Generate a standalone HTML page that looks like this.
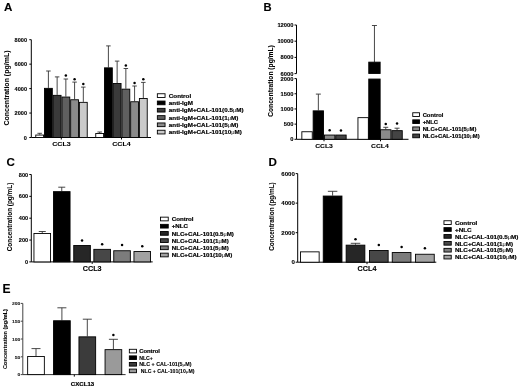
<!DOCTYPE html>
<html><head><meta charset="utf-8"><style>
html,body{margin:0;padding:0;background:#fff;}
body{width:520px;height:387px;overflow:hidden;}
svg{display:block;font-family:"Liberation Sans", sans-serif;will-change:transform;filter:blur(0.35px);}
</style></head><body>
<svg width="520" height="387" viewBox="0 0 520 387" shape-rendering="auto">
<rect x="0" y="0" width="520" height="387" fill="#fff"/>
<text x="4" y="11.3" font-size="11.6" text-anchor="start" font-weight="bold" fill="#000" stroke="#000" stroke-width="0.12" >A</text>
<line x1="31.3" y1="39.7" x2="31.3" y2="137.5" stroke="#000" stroke-width="1"/>
<line x1="29.3" y1="137.5" x2="31.3" y2="137.5" stroke="#000" stroke-width="1"/>
<text x="27.0" y="139.516" font-size="5.6" text-anchor="end" font-weight="bold" fill="#000" stroke="#000" stroke-width="0.1"  transform="matrix(1,0,0,0.88,0,16.742)">0</text>
<line x1="29.3" y1="113.05" x2="31.3" y2="113.05" stroke="#000" stroke-width="1"/>
<text x="27.0" y="115.066" font-size="5.6" text-anchor="end" font-weight="bold" fill="#000" stroke="#000" stroke-width="0.1"  transform="matrix(1,0,0,0.88,0,13.808)">2000</text>
<line x1="29.3" y1="88.6" x2="31.3" y2="88.6" stroke="#000" stroke-width="1"/>
<text x="27.0" y="90.616" font-size="5.6" text-anchor="end" font-weight="bold" fill="#000" stroke="#000" stroke-width="0.1"  transform="matrix(1,0,0,0.88,0,10.874)">4000</text>
<line x1="29.3" y1="64.15" x2="31.3" y2="64.15" stroke="#000" stroke-width="1"/>
<text x="27.0" y="66.16600000000001" font-size="5.6" text-anchor="end" font-weight="bold" fill="#000" stroke="#000" stroke-width="0.1"  transform="matrix(1,0,0,0.88,0,7.940)">6000</text>
<line x1="29.3" y1="39.7" x2="31.3" y2="39.7" stroke="#000" stroke-width="1"/>
<text x="27.0" y="41.716" font-size="5.6" text-anchor="end" font-weight="bold" fill="#000" stroke="#000" stroke-width="0.1"  transform="matrix(1,0,0,0.88,0,5.006)">8000</text>
<line x1="31.3" y1="137.5" x2="151" y2="137.5" stroke="#000" stroke-width="1"/>
<line x1="61.3" y1="137.5" x2="61.3" y2="139.5" stroke="#000" stroke-width="1"/>
<line x1="121.5" y1="137.5" x2="121.5" y2="139.5" stroke="#000" stroke-width="1"/>
<line x1="39.665" y1="133.3" x2="39.665" y2="134.6" stroke="#333" stroke-width="0.9"/>
<line x1="37.415" y1="133.3" x2="41.915" y2="133.3" stroke="#333" stroke-width="0.9"/>
<rect x="35.75" y="135.04999999999998" width="7.83" height="2.4500000000000055" fill="#fff" stroke="#000" stroke-width="0.9"/>
<line x1="48.395" y1="71" x2="48.395" y2="87.9" stroke="#333" stroke-width="0.9"/>
<line x1="46.145" y1="71" x2="50.645" y2="71" stroke="#333" stroke-width="0.9"/>
<rect x="44.480000000000004" y="88.35000000000001" width="7.83" height="49.14999999999999" fill="#000" stroke="#000" stroke-width="0.9"/>
<line x1="57.125" y1="76.9" x2="57.125" y2="94.9" stroke="#333" stroke-width="0.9"/>
<line x1="54.875" y1="76.9" x2="59.375" y2="76.9" stroke="#333" stroke-width="0.9"/>
<rect x="53.21" y="95.35000000000001" width="7.83" height="42.14999999999999" fill="#3a3a3a" stroke="#000" stroke-width="0.9"/>
<line x1="65.85499999999999" y1="79" x2="65.85499999999999" y2="96.6" stroke="#333" stroke-width="0.9"/>
<line x1="63.60499999999999" y1="79" x2="68.10499999999999" y2="79" stroke="#333" stroke-width="0.9"/>
<rect x="61.94" y="97.05" width="7.83" height="40.45" fill="#5f5f5f" stroke="#000" stroke-width="0.9"/>
<circle cx="65.85499999999999" cy="75.5" r="1.25" fill="#000"/>
<line x1="74.585" y1="82.1" x2="74.585" y2="99.3" stroke="#333" stroke-width="0.9"/>
<line x1="72.335" y1="82.1" x2="76.835" y2="82.1" stroke="#333" stroke-width="0.9"/>
<rect x="70.67" y="99.75" width="7.83" height="37.75" fill="#8a8a8a" stroke="#000" stroke-width="0.9"/>
<circle cx="74.585" cy="79.2" r="1.25" fill="#000"/>
<line x1="83.315" y1="87.1" x2="83.315" y2="101.9" stroke="#333" stroke-width="0.9"/>
<line x1="81.065" y1="87.1" x2="85.565" y2="87.1" stroke="#333" stroke-width="0.9"/>
<rect x="79.4" y="102.35000000000001" width="7.83" height="35.14999999999999" fill="#cacaca" stroke="#000" stroke-width="0.9"/>
<circle cx="83.315" cy="84.1" r="1.25" fill="#000"/>
<line x1="99.66499999999999" y1="132" x2="99.66499999999999" y2="133" stroke="#333" stroke-width="0.9"/>
<line x1="97.41499999999999" y1="132" x2="101.91499999999999" y2="132" stroke="#333" stroke-width="0.9"/>
<rect x="95.75" y="133.45" width="7.83" height="4.05" fill="#fff" stroke="#000" stroke-width="0.9"/>
<line x1="108.395" y1="45.9" x2="108.395" y2="67.4" stroke="#333" stroke-width="0.9"/>
<line x1="106.145" y1="45.9" x2="110.645" y2="45.9" stroke="#333" stroke-width="0.9"/>
<rect x="104.48" y="67.85000000000001" width="7.83" height="69.64999999999999" fill="#000" stroke="#000" stroke-width="0.9"/>
<line x1="117.12499999999999" y1="61.1" x2="117.12499999999999" y2="83" stroke="#333" stroke-width="0.9"/>
<line x1="114.87499999999999" y1="61.1" x2="119.37499999999999" y2="61.1" stroke="#333" stroke-width="0.9"/>
<rect x="113.21" y="83.45" width="7.83" height="54.05" fill="#3a3a3a" stroke="#000" stroke-width="0.9"/>
<line x1="125.85499999999999" y1="68.5" x2="125.85499999999999" y2="88.7" stroke="#333" stroke-width="0.9"/>
<line x1="123.60499999999999" y1="68.5" x2="128.105" y2="68.5" stroke="#333" stroke-width="0.9"/>
<rect x="121.94" y="89.15" width="7.83" height="48.349999999999994" fill="#5f5f5f" stroke="#000" stroke-width="0.9"/>
<circle cx="125.85499999999999" cy="65.6" r="1.25" fill="#000"/>
<line x1="134.585" y1="86" x2="134.585" y2="101.3" stroke="#333" stroke-width="0.9"/>
<line x1="132.335" y1="86" x2="136.835" y2="86" stroke="#333" stroke-width="0.9"/>
<rect x="130.67" y="101.75" width="7.83" height="35.75" fill="#8a8a8a" stroke="#000" stroke-width="0.9"/>
<circle cx="134.585" cy="83" r="1.25" fill="#000"/>
<line x1="143.315" y1="82.4" x2="143.315" y2="98" stroke="#333" stroke-width="0.9"/>
<line x1="141.065" y1="82.4" x2="145.565" y2="82.4" stroke="#333" stroke-width="0.9"/>
<rect x="139.39999999999998" y="98.45" width="7.83" height="39.05" fill="#cacaca" stroke="#000" stroke-width="0.9"/>
<circle cx="143.315" cy="79.2" r="1.25" fill="#000"/>
<text x="61.5" y="146" font-size="7.1" text-anchor="middle" font-weight="bold" fill="#000" stroke="#000" stroke-width="0.12"  transform="matrix(1,0,0,0.88,0,17.520)">CCL3</text>
<text x="121.5" y="146" font-size="7.1" text-anchor="middle" font-weight="bold" fill="#000" stroke="#000" stroke-width="0.12"  transform="matrix(1,0,0,0.88,0,17.520)">CCL4</text>
<text x="6.8" y="90.52" font-size="7" text-anchor="middle" font-weight="bold" fill="#000" stroke="#000" stroke-width="0.05" transform="rotate(-90 6.8 88)">Concentration (pg/mL)</text>
<rect x="157.35" y="93.75" width="7.699999999999999" height="3.6999999999999997" fill="#fff" stroke="#000" stroke-width="0.9"/>
<text x="168.8" y="97.868" font-size="6.3" text-anchor="start" font-weight="bold" fill="#000" stroke="#000" stroke-width="0.2"  transform="matrix(1,0,0,0.88,0,11.744)">Control</text>
<rect x="157.35" y="101.05" width="7.699999999999999" height="3.6999999999999997" fill="#000" stroke="#000" stroke-width="0.9"/>
<text x="168.8" y="105.16799999999999" font-size="6.3" text-anchor="start" font-weight="bold" fill="#000" stroke="#000" stroke-width="0.2"  transform="matrix(1,0,0,0.88,0,12.620)">anti-IgM</text>
<rect x="157.35" y="108.35" width="7.699999999999999" height="3.6999999999999997" fill="#3a3a3a" stroke="#000" stroke-width="0.9"/>
<text x="168.8" y="112.46799999999999" font-size="6.3" text-anchor="start" font-weight="bold" fill="#000" stroke="#000" stroke-width="0.2"  transform="matrix(1,0,0,0.88,0,13.496)">anti-IgM+CAL-101(0.5<tspan font-weight="normal" stroke-width="0" font-size="90%">μ</tspan>M)</text>
<rect x="157.35" y="115.65" width="7.699999999999999" height="3.6999999999999997" fill="#5f5f5f" stroke="#000" stroke-width="0.9"/>
<text x="168.8" y="119.768" font-size="6.3" text-anchor="start" font-weight="bold" fill="#000" stroke="#000" stroke-width="0.2"  transform="matrix(1,0,0,0.88,0,14.372)">anti-IgM+CAL-101(1<tspan font-weight="normal" stroke-width="0" font-size="90%">μ</tspan>M)</text>
<rect x="157.35" y="122.95" width="7.699999999999999" height="3.6999999999999997" fill="#8a8a8a" stroke="#000" stroke-width="0.9"/>
<text x="168.8" y="127.068" font-size="6.3" text-anchor="start" font-weight="bold" fill="#000" stroke="#000" stroke-width="0.2"  transform="matrix(1,0,0,0.88,0,15.248)">anti-IgM+CAL-101(5<tspan font-weight="normal" stroke-width="0" font-size="90%">μ</tspan>M)</text>
<rect x="157.35" y="130.24999999999997" width="7.699999999999999" height="3.6999999999999997" fill="#cacaca" stroke="#000" stroke-width="0.9"/>
<text x="168.8" y="134.368" font-size="6.3" text-anchor="start" font-weight="bold" fill="#000" stroke="#000" stroke-width="0.2"  transform="matrix(1,0,0,0.88,0,16.124)">anti-IgM+CAL-101(10<tspan font-weight="normal" stroke-width="0" font-size="90%">μ</tspan>M)</text>
<text x="263.6" y="11.1" font-size="11.2" text-anchor="start" font-weight="bold" fill="#000" stroke="#000" stroke-width="0.12" >B</text>
<line x1="296.5" y1="25" x2="296.5" y2="73.6" stroke="#000" stroke-width="1"/>
<line x1="296.5" y1="78.6" x2="296.5" y2="139.3" stroke="#000" stroke-width="1"/>
<line x1="294.5" y1="73.6" x2="296.5" y2="73.6" stroke="#000" stroke-width="1"/>
<text x="293.5" y="75.69999999999999" font-size="5.8" text-anchor="end" font-weight="bold" fill="#000" stroke="#000" stroke-width="0.12"  transform="matrix(1,0,0,0.88,0,9.084)">6000</text>
<line x1="294.5" y1="57.39999999999999" x2="296.5" y2="57.39999999999999" stroke="#000" stroke-width="1"/>
<text x="293.5" y="59.49999999999999" font-size="5.8" text-anchor="end" font-weight="bold" fill="#000" stroke="#000" stroke-width="0.12"  transform="matrix(1,0,0,0.88,0,7.140)">8000</text>
<line x1="294.5" y1="41.199999999999996" x2="296.5" y2="41.199999999999996" stroke="#000" stroke-width="1"/>
<text x="293.5" y="43.3" font-size="5.8" text-anchor="end" font-weight="bold" fill="#000" stroke="#000" stroke-width="0.12"  transform="matrix(1,0,0,0.88,0,5.196)">10000</text>
<line x1="294.5" y1="25.000000000000007" x2="296.5" y2="25.000000000000007" stroke="#000" stroke-width="1"/>
<text x="293.5" y="27.10000000000001" font-size="5.8" text-anchor="end" font-weight="bold" fill="#000" stroke="#000" stroke-width="0.12"  transform="matrix(1,0,0,0.88,0,3.252)">12000</text>
<line x1="294.5" y1="139.3" x2="296.5" y2="139.3" stroke="#000" stroke-width="1"/>
<text x="293.5" y="141.4" font-size="5.8" text-anchor="end" font-weight="bold" fill="#000" stroke="#000" stroke-width="0.12"  transform="matrix(1,0,0,0.88,0,16.968)">0</text>
<line x1="294.5" y1="124.125" x2="296.5" y2="124.125" stroke="#000" stroke-width="1"/>
<text x="293.5" y="126.225" font-size="5.8" text-anchor="end" font-weight="bold" fill="#000" stroke="#000" stroke-width="0.12"  transform="matrix(1,0,0,0.88,0,15.147)">500</text>
<line x1="294.5" y1="108.95" x2="296.5" y2="108.95" stroke="#000" stroke-width="1"/>
<text x="293.5" y="111.05" font-size="5.8" text-anchor="end" font-weight="bold" fill="#000" stroke="#000" stroke-width="0.12"  transform="matrix(1,0,0,0.88,0,13.326)">1000</text>
<line x1="294.5" y1="93.775" x2="296.5" y2="93.775" stroke="#000" stroke-width="1"/>
<text x="293.5" y="95.875" font-size="5.8" text-anchor="end" font-weight="bold" fill="#000" stroke="#000" stroke-width="0.12"  transform="matrix(1,0,0,0.88,0,11.505)">1500</text>
<line x1="294.5" y1="78.6" x2="296.5" y2="78.6" stroke="#000" stroke-width="1"/>
<text x="293.5" y="80.69999999999999" font-size="5.8" text-anchor="end" font-weight="bold" fill="#000" stroke="#000" stroke-width="0.12"  transform="matrix(1,0,0,0.88,0,9.684)">2000</text>
<line x1="296.5" y1="139.3" x2="408.5" y2="139.3" stroke="#000" stroke-width="1"/>
<line x1="324" y1="139.3" x2="324" y2="141.3" stroke="#000" stroke-width="1"/>
<line x1="380.5" y1="139.3" x2="380.5" y2="141.3" stroke="#000" stroke-width="1"/>
<rect x="301.84999999999997" y="131.75" width="10.4" height="7.55" fill="#fff" stroke="#000" stroke-width="0.9"/>
<line x1="318.34999999999997" y1="94.1" x2="318.34999999999997" y2="110.4" stroke="#333" stroke-width="0.9"/>
<line x1="315.84999999999997" y1="94.1" x2="320.84999999999997" y2="94.1" stroke="#333" stroke-width="0.9"/>
<rect x="313.15" y="110.85000000000001" width="10.4" height="28.450000000000006" fill="#000" stroke="#000" stroke-width="0.9"/>
<rect x="324.45" y="135.04999999999998" width="10.4" height="4.250000000000017" fill="#8a8a8a" stroke="#000" stroke-width="0.9"/>
<circle cx="329.65" cy="130.2" r="1.25" fill="#000"/>
<rect x="335.74999999999994" y="135.04999999999998" width="10.4" height="4.250000000000017" fill="#444" stroke="#000" stroke-width="0.9"/>
<circle cx="340.94999999999993" cy="130.6" r="1.25" fill="#000"/>
<rect x="357.95" y="117.65" width="10.4" height="21.65000000000001" fill="#fff" stroke="#000" stroke-width="0.9"/>
<line x1="374.45" y1="25.5" x2="374.45" y2="62" stroke="#333" stroke-width="0.9"/>
<line x1="371.95" y1="25.5" x2="376.95" y2="25.5" stroke="#333" stroke-width="0.9"/>
<rect x="368.8" y="62.2" width="11.3" height="11.200000000000003" fill="#000" stroke="#000" stroke-width="1"/>
<rect x="368.8" y="79.1" width="11.3" height="60.20000000000002" fill="#000" stroke="#000" stroke-width="1"/>
<line x1="385.75" y1="127.3" x2="385.75" y2="129.3" stroke="#333" stroke-width="0.9"/>
<line x1="383.25" y1="127.3" x2="388.25" y2="127.3" stroke="#333" stroke-width="0.9"/>
<rect x="380.55" y="129.75" width="10.4" height="9.55" fill="#8a8a8a" stroke="#000" stroke-width="0.9"/>
<circle cx="385.75" cy="124.1" r="1.25" fill="#000"/>
<line x1="397.04999999999995" y1="128.2" x2="397.04999999999995" y2="130.2" stroke="#333" stroke-width="0.9"/>
<line x1="394.54999999999995" y1="128.2" x2="399.54999999999995" y2="128.2" stroke="#333" stroke-width="0.9"/>
<rect x="391.84999999999997" y="130.64999999999998" width="10.4" height="8.650000000000023" fill="#444" stroke="#000" stroke-width="0.9"/>
<circle cx="397.04999999999995" cy="123.5" r="1.25" fill="#000"/>
<text x="324" y="147.6" font-size="6.8" text-anchor="middle" font-weight="bold" fill="#000" stroke="#000" stroke-width="0.12"  transform="matrix(1,0,0,0.88,0,17.712)">CCL3</text>
<text x="379.9" y="147.6" font-size="6.8" text-anchor="middle" font-weight="bold" fill="#000" stroke="#000" stroke-width="0.12"  transform="matrix(1,0,0,0.88,0,17.712)">CCL4</text>
<text x="271" y="83.412" font-size="6.7" text-anchor="middle" font-weight="bold" fill="#000" stroke="#000" stroke-width="0.05" transform="rotate(-90 271 81)">Concentration (pg/mL)</text>
<rect x="412.75" y="112.75" width="6.8" height="3.6999999999999997" fill="#fff" stroke="#000" stroke-width="0.9"/>
<text x="422.7" y="116.68799999999999" font-size="5.8" text-anchor="start" font-weight="bold" fill="#000" stroke="#000" stroke-width="0.2"  transform="matrix(1,0,0,0.88,0,14.003)">Control</text>
<rect x="412.75" y="119.85" width="6.8" height="3.6999999999999997" fill="#000" stroke="#000" stroke-width="0.9"/>
<text x="422.7" y="123.78799999999998" font-size="5.8" text-anchor="start" font-weight="bold" fill="#000" stroke="#000" stroke-width="0.2"  transform="matrix(1,0,0,0.88,0,14.855)">+NLC</text>
<rect x="412.75" y="126.94999999999999" width="6.8" height="3.6999999999999997" fill="#8a8a8a" stroke="#000" stroke-width="0.9"/>
<text x="422.7" y="130.88799999999998" font-size="5.8" text-anchor="start" font-weight="bold" fill="#000" stroke="#000" stroke-width="0.2"  transform="matrix(1,0,0,0.88,0,15.707)">NLC+CAL-101(5<tspan font-weight="normal" stroke-width="0" font-size="90%">μ</tspan>M)</text>
<rect x="412.75" y="134.04999999999995" width="6.8" height="3.6999999999999997" fill="#444" stroke="#000" stroke-width="0.9"/>
<text x="422.7" y="137.98799999999997" font-size="5.8" text-anchor="start" font-weight="bold" fill="#000" stroke="#000" stroke-width="0.2"  transform="matrix(1,0,0,0.88,0,16.559)">NLC+CAL-101(10<tspan font-weight="normal" stroke-width="0" font-size="90%">μ</tspan>M)</text>
<text x="6.4" y="165.8" font-size="11.6" text-anchor="start" font-weight="bold" fill="#000" stroke="#000" stroke-width="0.12" >C</text>
<line x1="31.3" y1="174.5" x2="31.3" y2="261.9" stroke="#000" stroke-width="1"/>
<line x1="29.3" y1="261.9" x2="31.3" y2="261.9" stroke="#000" stroke-width="1"/>
<text x="28.2" y="263.916" font-size="5.6" text-anchor="end" font-weight="bold" fill="#000" stroke="#000" stroke-width="0.1"  transform="matrix(1,0,0,0.88,0,31.670)">0</text>
<line x1="29.3" y1="240.04999999999998" x2="31.3" y2="240.04999999999998" stroke="#000" stroke-width="1"/>
<text x="28.2" y="242.06599999999997" font-size="5.6" text-anchor="end" font-weight="bold" fill="#000" stroke="#000" stroke-width="0.1"  transform="matrix(1,0,0,0.88,0,29.048)">200</text>
<line x1="29.3" y1="218.2" x2="31.3" y2="218.2" stroke="#000" stroke-width="1"/>
<text x="28.2" y="220.21599999999998" font-size="5.6" text-anchor="end" font-weight="bold" fill="#000" stroke="#000" stroke-width="0.1"  transform="matrix(1,0,0,0.88,0,26.426)">400</text>
<line x1="29.3" y1="196.35" x2="31.3" y2="196.35" stroke="#000" stroke-width="1"/>
<text x="28.2" y="198.36599999999999" font-size="5.6" text-anchor="end" font-weight="bold" fill="#000" stroke="#000" stroke-width="0.1"  transform="matrix(1,0,0,0.88,0,23.804)">600</text>
<line x1="29.3" y1="174.5" x2="31.3" y2="174.5" stroke="#000" stroke-width="1"/>
<text x="28.2" y="176.516" font-size="5.6" text-anchor="end" font-weight="bold" fill="#000" stroke="#000" stroke-width="0.1"  transform="matrix(1,0,0,0.88,0,21.182)">800</text>
<line x1="31.3" y1="261.9" x2="152.7" y2="261.9" stroke="#000" stroke-width="1"/>
<line x1="92.2" y1="261.9" x2="92.2" y2="263.9" stroke="#000" stroke-width="1"/>
<line x1="42.25" y1="231.5" x2="42.25" y2="233" stroke="#333" stroke-width="0.9"/>
<line x1="38.75" y1="231.5" x2="45.75" y2="231.5" stroke="#333" stroke-width="0.9"/>
<rect x="33.95" y="233.45" width="16.6" height="28.449999999999978" fill="#fff" stroke="#000" stroke-width="0.9"/>
<line x1="61.75" y1="187.2" x2="61.75" y2="191.2" stroke="#333" stroke-width="0.9"/>
<line x1="58.25" y1="187.2" x2="65.25" y2="187.2" stroke="#333" stroke-width="0.9"/>
<rect x="53.45" y="191.64999999999998" width="16.6" height="70.24999999999999" fill="#000" stroke="#000" stroke-width="0.9"/>
<rect x="73.75" y="245.45" width="16.6" height="16.449999999999978" fill="#262626" stroke="#000" stroke-width="0.9"/>
<circle cx="82.05" cy="240.4" r="1.25" fill="#000"/>
<rect x="93.85000000000001" y="249.35" width="16.6" height="12.549999999999972" fill="#474747" stroke="#000" stroke-width="0.9"/>
<circle cx="102.15" cy="244.2" r="1.25" fill="#000"/>
<rect x="113.75" y="250.75" width="16.6" height="11.149999999999967" fill="#7c7c7c" stroke="#000" stroke-width="0.9"/>
<circle cx="122.05" cy="245" r="1.25" fill="#000"/>
<rect x="133.95" y="251.54999999999998" width="16.6" height="10.349999999999984" fill="#a2a2a2" stroke="#000" stroke-width="0.9"/>
<circle cx="142.25" cy="246.3" r="1.25" fill="#000"/>
<text x="92.2" y="271" font-size="7.2" text-anchor="middle" font-weight="bold" fill="#000" stroke="#000" stroke-width="0.12"  transform="matrix(1,0,0,0.88,0,32.520)">CCL3</text>
<text x="9.5" y="219.304" font-size="6.4" text-anchor="middle" font-weight="bold" fill="#000" stroke="#000" stroke-width="0.05" transform="rotate(-90 9.5 217)">Concentration (pg/mL)</text>
<rect x="160.45" y="217.14999999999998" width="7.799999999999999" height="3.6999999999999997" fill="#fff" stroke="#000" stroke-width="0.9"/>
<text x="171.7" y="221.2212" font-size="6.17" text-anchor="start" font-weight="bold" fill="#000" stroke="#000" stroke-width="0.2"  transform="matrix(1,0,0,0.88,0,26.547)">Control</text>
<rect x="160.45" y="224.34999999999997" width="7.799999999999999" height="3.6999999999999997" fill="#000" stroke="#000" stroke-width="0.9"/>
<text x="171.7" y="228.4212" font-size="6.17" text-anchor="start" font-weight="bold" fill="#000" stroke="#000" stroke-width="0.2"  transform="matrix(1,0,0,0.88,0,27.411)">+NLC</text>
<rect x="160.45" y="231.54999999999998" width="7.799999999999999" height="3.6999999999999997" fill="#262626" stroke="#000" stroke-width="0.9"/>
<text x="171.7" y="235.62120000000002" font-size="6.17" text-anchor="start" font-weight="bold" fill="#000" stroke="#000" stroke-width="0.2"  transform="matrix(1,0,0,0.88,0,28.275)">NLC+CAL-101(0.5<tspan font-weight="normal" stroke-width="0" font-size="90%">μ</tspan>M)</text>
<rect x="160.45" y="238.74999999999997" width="7.799999999999999" height="3.6999999999999997" fill="#474747" stroke="#000" stroke-width="0.9"/>
<text x="171.7" y="242.8212" font-size="6.17" text-anchor="start" font-weight="bold" fill="#000" stroke="#000" stroke-width="0.2"  transform="matrix(1,0,0,0.88,0,29.139)">NLC+CAL-101(1<tspan font-weight="normal" stroke-width="0" font-size="90%">μ</tspan>M)</text>
<rect x="160.45" y="245.95" width="7.799999999999999" height="3.6999999999999997" fill="#7c7c7c" stroke="#000" stroke-width="0.9"/>
<text x="171.7" y="250.02120000000002" font-size="6.17" text-anchor="start" font-weight="bold" fill="#000" stroke="#000" stroke-width="0.2"  transform="matrix(1,0,0,0.88,0,30.003)">NLC+CAL-101(5<tspan font-weight="normal" stroke-width="0" font-size="90%">μ</tspan>M)</text>
<rect x="160.45" y="253.14999999999998" width="7.799999999999999" height="3.6999999999999997" fill="#a2a2a2" stroke="#000" stroke-width="0.9"/>
<text x="171.7" y="257.2212" font-size="6.17" text-anchor="start" font-weight="bold" fill="#000" stroke="#000" stroke-width="0.2"  transform="matrix(1,0,0,0.88,0,30.867)">NLC+CAL-101(10<tspan font-weight="normal" stroke-width="0" font-size="90%">μ</tspan>M)</text>
<text x="268.6" y="165.8" font-size="11.6" text-anchor="start" font-weight="bold" fill="#000" stroke="#000" stroke-width="0.12" >D</text>
<line x1="297.7" y1="173.6" x2="297.7" y2="262.2" stroke="#000" stroke-width="1"/>
<line x1="295.7" y1="262.2" x2="297.7" y2="262.2" stroke="#000" stroke-width="1"/>
<text x="294.9" y="264.396" font-size="6.1" text-anchor="end" font-weight="bold" fill="#000" stroke="#000" stroke-width="0.1"  transform="matrix(1,0,0,0.88,0,31.728)">0</text>
<line x1="295.7" y1="232.66666666666666" x2="297.7" y2="232.66666666666666" stroke="#000" stroke-width="1"/>
<text x="294.9" y="234.86266666666666" font-size="6.1" text-anchor="end" font-weight="bold" fill="#000" stroke="#000" stroke-width="0.1"  transform="matrix(1,0,0,0.88,0,28.184)">2000</text>
<line x1="295.7" y1="203.13333333333333" x2="297.7" y2="203.13333333333333" stroke="#000" stroke-width="1"/>
<text x="294.9" y="205.32933333333332" font-size="6.1" text-anchor="end" font-weight="bold" fill="#000" stroke="#000" stroke-width="0.1"  transform="matrix(1,0,0,0.88,0,24.640)">4000</text>
<line x1="295.7" y1="173.6" x2="297.7" y2="173.6" stroke="#000" stroke-width="1"/>
<text x="294.9" y="175.796" font-size="6.1" text-anchor="end" font-weight="bold" fill="#000" stroke="#000" stroke-width="0.1"  transform="matrix(1,0,0,0.88,0,21.096)">6000</text>
<line x1="297.7" y1="262.2" x2="436.3" y2="262.2" stroke="#000" stroke-width="1"/>
<line x1="367" y1="262.2" x2="367" y2="264.2" stroke="#000" stroke-width="1"/>
<rect x="300.45" y="251.85" width="18.700000000000003" height="10.349999999999984" fill="#fff" stroke="#000" stroke-width="0.9"/>
<line x1="332.6" y1="191.3" x2="332.6" y2="195.6" stroke="#333" stroke-width="0.9"/>
<line x1="327.85" y1="191.3" x2="337.35" y2="191.3" stroke="#333" stroke-width="0.9"/>
<rect x="323.25" y="196.04999999999998" width="18.700000000000003" height="66.14999999999999" fill="#000" stroke="#000" stroke-width="0.9"/>
<line x1="355.5" y1="243.3" x2="355.5" y2="244.7" stroke="#333" stroke-width="0.9"/>
<line x1="350.75" y1="243.3" x2="360.25" y2="243.3" stroke="#333" stroke-width="0.9"/>
<rect x="346.15" y="245.14999999999998" width="18.700000000000003" height="17.05" fill="#262626" stroke="#000" stroke-width="0.9"/>
<circle cx="355.5" cy="239.2" r="1.25" fill="#000"/>
<rect x="369.45" y="250.45" width="18.700000000000003" height="11.74999999999999" fill="#474747" stroke="#000" stroke-width="0.9"/>
<circle cx="378.8" cy="245.1" r="1.25" fill="#000"/>
<rect x="392.25" y="252.54999999999998" width="18.700000000000003" height="9.649999999999995" fill="#7c7c7c" stroke="#000" stroke-width="0.9"/>
<circle cx="401.6" cy="247" r="1.25" fill="#000"/>
<rect x="415.55" y="254.25" width="18.700000000000003" height="7.949999999999977" fill="#a2a2a2" stroke="#000" stroke-width="0.9"/>
<circle cx="424.90000000000003" cy="248.3" r="1.25" fill="#000"/>
<text x="367" y="271.5" font-size="7.2" text-anchor="middle" font-weight="bold" fill="#000" stroke="#000" stroke-width="0.12"  transform="matrix(1,0,0,0.88,0,32.580)">CCL4</text>
<text x="271.5" y="218.804" font-size="6.4" text-anchor="middle" font-weight="bold" fill="#000" stroke="#000" stroke-width="0.05" transform="rotate(-90 271.5 216.5)">Concentration (pg/mL)</text>
<rect x="443.95" y="220.74999999999997" width="7.299999999999999" height="3.6999999999999997" fill="#fff" stroke="#000" stroke-width="0.9"/>
<text x="455" y="224.86079999999998" font-size="6.28" text-anchor="start" font-weight="bold" fill="#000" stroke="#000" stroke-width="0.2"  transform="matrix(1,0,0,0.88,0,26.983)">Control</text>
<rect x="443.95" y="227.64999999999998" width="7.299999999999999" height="3.6999999999999997" fill="#000" stroke="#000" stroke-width="0.9"/>
<text x="455" y="231.7608" font-size="6.28" text-anchor="start" font-weight="bold" fill="#000" stroke="#000" stroke-width="0.2"  transform="matrix(1,0,0,0.88,0,27.811)">+NLC</text>
<rect x="443.95" y="234.54999999999998" width="7.299999999999999" height="3.6999999999999997" fill="#262626" stroke="#000" stroke-width="0.9"/>
<text x="455" y="238.6608" font-size="6.28" text-anchor="start" font-weight="bold" fill="#000" stroke="#000" stroke-width="0.2"  transform="matrix(1,0,0,0.88,0,28.639)">NLC+CAL-101(0.5<tspan font-weight="normal" stroke-width="0" font-size="90%">μ</tspan>M)</text>
<rect x="443.95" y="241.45" width="7.299999999999999" height="3.6999999999999997" fill="#474747" stroke="#000" stroke-width="0.9"/>
<text x="455" y="245.5608" font-size="6.28" text-anchor="start" font-weight="bold" fill="#000" stroke="#000" stroke-width="0.2"  transform="matrix(1,0,0,0.88,0,29.467)">NLC+CAL-101(1<tspan font-weight="normal" stroke-width="0" font-size="90%">μ</tspan>M)</text>
<rect x="443.95" y="248.34999999999997" width="7.299999999999999" height="3.6999999999999997" fill="#7c7c7c" stroke="#000" stroke-width="0.9"/>
<text x="455" y="252.46079999999998" font-size="6.28" text-anchor="start" font-weight="bold" fill="#000" stroke="#000" stroke-width="0.2"  transform="matrix(1,0,0,0.88,0,30.295)">NLC+CAL-101(5<tspan font-weight="normal" stroke-width="0" font-size="90%">μ</tspan>M)</text>
<rect x="443.95" y="255.25" width="7.299999999999999" height="3.6999999999999997" fill="#a2a2a2" stroke="#000" stroke-width="0.9"/>
<text x="455" y="259.36080000000004" font-size="6.28" text-anchor="start" font-weight="bold" fill="#000" stroke="#000" stroke-width="0.2"  transform="matrix(1,0,0,0.88,0,31.123)">NLC+CAL-101(10<tspan font-weight="normal" stroke-width="0" font-size="90%">μ</tspan>M)</text>
<text x="2.5" y="292.8" font-size="12" text-anchor="start" font-weight="bold" fill="#000" stroke="#000" stroke-width="0.12" >E</text>
<line x1="22.8" y1="303.4" x2="22.8" y2="374.6" stroke="#444" stroke-width="1"/>
<line x1="20.8" y1="374.6" x2="22.8" y2="374.6" stroke="#444" stroke-width="1"/>
<text x="20.2" y="376.40000000000003" font-size="5.0" text-anchor="end" font-weight="bold" fill="#222" stroke="#222" stroke-width="0.1"  transform="matrix(1,0,0,0.88,0,45.168)">0</text>
<line x1="20.8" y1="356.8" x2="22.8" y2="356.8" stroke="#444" stroke-width="1"/>
<text x="20.2" y="358.6" font-size="5.0" text-anchor="end" font-weight="bold" fill="#222" stroke="#222" stroke-width="0.1"  transform="matrix(1,0,0,0.88,0,43.032)">50</text>
<line x1="20.8" y1="339.0" x2="22.8" y2="339.0" stroke="#444" stroke-width="1"/>
<text x="20.2" y="340.8" font-size="5.0" text-anchor="end" font-weight="bold" fill="#222" stroke="#222" stroke-width="0.1"  transform="matrix(1,0,0,0.88,0,40.896)">100</text>
<line x1="20.8" y1="321.2" x2="22.8" y2="321.2" stroke="#444" stroke-width="1"/>
<text x="20.2" y="323.0" font-size="5.0" text-anchor="end" font-weight="bold" fill="#222" stroke="#222" stroke-width="0.1"  transform="matrix(1,0,0,0.88,0,38.760)">150</text>
<line x1="20.8" y1="303.4" x2="22.8" y2="303.4" stroke="#444" stroke-width="1"/>
<text x="20.2" y="305.2" font-size="5.0" text-anchor="end" font-weight="bold" fill="#222" stroke="#222" stroke-width="0.1"  transform="matrix(1,0,0,0.88,0,36.624)">200</text>
<line x1="22.8" y1="374.6" x2="125.6" y2="374.6" stroke="#333" stroke-width="1"/>
<line x1="74.3" y1="374.6" x2="74.3" y2="376.6" stroke="#000" stroke-width="1"/>
<line x1="36.0" y1="348.6" x2="36.0" y2="356.1" stroke="#333" stroke-width="0.9"/>
<line x1="31.5" y1="348.6" x2="40.5" y2="348.6" stroke="#333" stroke-width="0.9"/>
<rect x="27.65" y="356.55" width="16.700000000000003" height="18.05" fill="#fff" stroke="#000" stroke-width="0.9"/>
<line x1="61.900000000000006" y1="307.8" x2="61.900000000000006" y2="320.3" stroke="#333" stroke-width="0.9"/>
<line x1="57.400000000000006" y1="307.8" x2="66.4" y2="307.8" stroke="#333" stroke-width="0.9"/>
<rect x="53.550000000000004" y="320.75" width="16.700000000000003" height="53.85000000000001" fill="#000" stroke="#000" stroke-width="0.9"/>
<line x1="87.3" y1="319.2" x2="87.3" y2="336.4" stroke="#333" stroke-width="0.9"/>
<line x1="82.8" y1="319.2" x2="91.8" y2="319.2" stroke="#333" stroke-width="0.9"/>
<rect x="78.95" y="336.84999999999997" width="16.700000000000003" height="37.75000000000004" fill="#3b3b3b" stroke="#000" stroke-width="0.9"/>
<line x1="113.39999999999999" y1="339.3" x2="113.39999999999999" y2="349.2" stroke="#333" stroke-width="0.9"/>
<line x1="108.89999999999999" y1="339.3" x2="117.89999999999999" y2="339.3" stroke="#333" stroke-width="0.9"/>
<rect x="105.05" y="349.65" width="16.700000000000003" height="24.950000000000035" fill="#9a9a9a" stroke="#000" stroke-width="0.9"/>
<circle cx="113.39999999999999" cy="335.1" r="1.25" fill="#000"/>
<text x="82.5" y="386" font-size="6.1" text-anchor="middle" font-weight="bold" fill="#000" stroke="#000" stroke-width="0.22"  transform="matrix(1,0,0,0.88,0,46.320)">CXCL13</text>
<text x="4.8" y="341.016" font-size="5.6" text-anchor="middle" font-weight="bold" fill="#000" stroke="#000" stroke-width="0.05" transform="rotate(-90 4.8 339)">Concentration (pg/mL)</text>
<rect x="129.35" y="349.3" width="7.1" height="3.6" fill="#fff" stroke="#000" stroke-width="0.9"/>
<text x="139.2" y="353.206" font-size="5.85" text-anchor="start" font-weight="bold" fill="#000" stroke="#000" stroke-width="0.2"  transform="matrix(1,0,0,0.88,0,42.385)">Control</text>
<rect x="129.35" y="355.90000000000003" width="7.1" height="3.6" fill="#000" stroke="#000" stroke-width="0.9"/>
<text x="139.2" y="359.57200000000006" font-size="5.2" text-anchor="start" font-weight="bold" fill="#000" stroke="#000" stroke-width="0.1"  transform="matrix(1,0,0,0.88,0,43.149)">NLC+</text>
<rect x="129.35" y="362.5" width="7.1" height="3.6" fill="#3b3b3b" stroke="#000" stroke-width="0.9"/>
<text x="139.2" y="366.226" font-size="5.35" text-anchor="start" font-weight="bold" fill="#000" stroke="#000" stroke-width="0.1"  transform="matrix(1,0,0,0.88,0,43.947)">NLC + CAL-101(5<tspan font-weight="normal" stroke-width="0" font-size="90%">μ</tspan>M)</text>
<rect x="129.35" y="369.1" width="7.1" height="3.6" fill="#9a9a9a" stroke="#000" stroke-width="0.9"/>
<text x="140.79999999999998" y="372.77200000000005" font-size="5.2" text-anchor="start" font-weight="bold" fill="#000" stroke="#000" stroke-width="0.1"  transform="matrix(1,0,0,0.88,0,44.733)">NLC + CAL-101(10<tspan font-weight="normal" stroke-width="0" font-size="90%">μ</tspan>M)</text>
</svg>
</body></html>
